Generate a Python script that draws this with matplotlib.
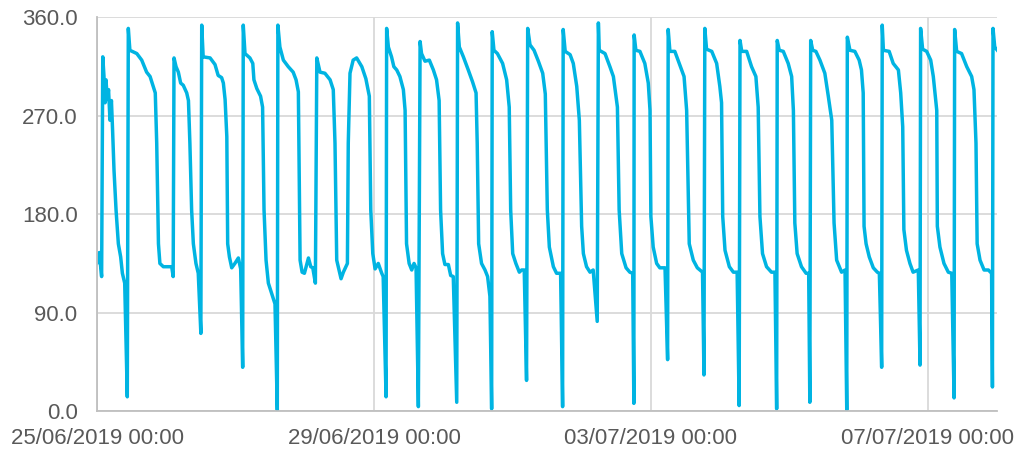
import matplotlib
matplotlib.use('Agg')
import matplotlib.pyplot as plt
import matplotlib.dates as mdates
from matplotlib.ticker import FormatStrFormatter
import pandas as pd

plt.rcParams['font.family'] = ['Liberation Sans', 'DejaVu Sans']

START = pd.Timestamp('2019-06-25 00:00')

# hours since start
hours = [
    0.0, 0.8, 1.6, 2.0, 2.4, 2.8, 3.1, 3.6, 4.0, 4.5, 5.0, 5.4, 5.9, 6.6, 7.4, 8.2, 8.8, 9.6, 10.5,
    10.85, 11.4, 13.8, 15.5, 17.2, 18.4, 19.5, 20.2, 20.7, 21.3, 21.8, 23.0, 25.9, 26.4,
    26.7, 27.4, 28.2, 29.0, 29.9, 31.1, 31.7, 32.2, 32.8, 33.4, 34.3, 35.1, 36.0,
    36.3, 36.8, 39.2, 40.9, 42.0, 43.2, 43.8, 44.4, 45.0, 45.3, 45.9, 46.7, 47.8, 49.0, 49.8, 50.5,
    50.7, 51.3, 53.0, 54.0, 54.4, 55.4, 56.7, 57.4, 57.9, 58.6, 59.4, 60.5, 61.7, 62.5,
    62.7, 63.4, 64.6, 66.3, 68.0, 69.0, 69.8, 70.4, 71.1, 71.9, 73.3, 74.1, 74.8, 75.7,
    76.2, 77.3, 79.0, 80.8, 81.9, 82.5, 83.1, 84.6, 85.4, 86.8,
    87.1, 87.7, 88.8, 90.0, 91.8, 93.2, 94.4, 94.9, 95.6, 96.4, 97.5, 98.7, 99.2, 100.2,
    100.4, 101.0, 102.1, 102.9, 103.9, 105.0, 106.2, 106.8, 107.3, 108.2, 109.1, 109.9, 110.6, 111.4,
    112.0, 112.5, 113.7, 115.2, 116.6, 117.7, 118.6, 119.1, 119.8, 120.6, 121.8, 122.6, 123.5, 124.7,
    125.0, 125.6, 127.0, 128.7, 130.2, 131.4, 131.8, 132.3, 133.3, 134.5, 135.4, 136.2, 136.8,
    137.0, 137.6, 138.8, 140.6, 142.0, 142.9, 143.4, 144.1, 145.2, 146.4, 147.2, 148.1, 148.9,
    149.3, 150.1, 151.5, 153.0, 154.5, 155.4, 156.1, 156.8, 158.2, 159.3, 160.7, 161.4,
    161.6, 162.3, 164.0, 165.1, 166.3, 167.2, 168.0, 168.6, 169.7, 170.9, 172.0, 173.4,
    173.8, 174.1, 176.1, 177.8, 179.0, 180.4, 181.0, 181.9, 183.4, 184.7, 185.7, 186.1,
    186.2, 186.8, 188.2, 189.9, 191.1, 191.7, 192.0, 192.8, 194.0, 195.1, 196.9, 197.8,
    198.0, 198.6, 200.3, 202.1, 203.5, 204.4, 205.3, 206.7, 208.1, 209.9, 210.4,
    210.7, 211.3, 213.1, 214.8, 215.9, 216.5, 216.9, 217.7, 219.2, 220.6, 221.9, 222.6,
    222.9, 223.5, 225.2, 226.9, 228.4, 229.2, 229.8, 230.7, 232.1, 233.8, 235.0, 235.6,
    235.8, 236.5, 237.9, 239.6, 240.8, 241.4, 241.9, 242.7, 244.2, 245.8, 246.7, 247.1,
    247.4, 248.1, 249.2, 250.6, 252.3, 253.5, 254.7, 255.5, 256.4, 258.1, 259.3, 259.9,
    260.1, 261.0, 262.7, 264.2, 265.0, 265.6, 265.9, 266.6, 267.7, 269.1, 270.5, 271.2, 272.0,
    272.2, 272.6, 274.6, 276.0, 277.8, 278.6, 279.3, 279.7, 280.6, 281.8, 282.9, 284.7, 285.3,
    285.5, 286.2, 287.6, 289.0, 289.9, 291.1, 291.3, 292.2, 293.6, 295.1, 296.3, 297.1,
    297.3, 298.0, 299.7, 301.5, 303.2, 304.0, 304.7, 305.1, 306.1, 307.5, 309.0, 310.1, 310.4,
    310.6, 311.2, 312.4,
]
values = [
    135, 145, 123, 324, 307, 282, 303, 285, 294, 266, 284, 257, 220, 184, 153, 141, 126, 117, 13,
    350, 330, 327, 321, 310, 306, 297, 291, 245, 153, 135, 132, 132, 123,
    323, 315, 310, 300, 298, 291, 284, 245, 184, 153, 135, 126, 71,
    353, 324, 323, 317, 307, 305, 300, 285, 251, 153, 141, 131, 135, 140, 130, 40,
    353, 327, 323, 318, 303, 295, 288, 278, 184, 138, 117, 108, 98, 1,
    353, 333, 321, 315, 310, 303, 292, 138, 127, 126, 140, 132, 131, 117,
    323, 310, 309, 303, 294, 245, 138, 121, 127, 135,
    245, 309, 321, 323, 315, 304, 288, 184, 144, 130, 135, 126, 123, 13,
    350, 333, 324, 315, 312, 306, 294, 275, 153, 135, 129, 135, 131, 4,
    338, 327, 320, 321, 312, 303, 284, 184, 144, 134, 134, 124, 123, 8,
    355, 333, 324, 312, 301, 291, 245, 153, 135, 129, 123, 105, 2,
    347, 330, 327, 318, 303, 278, 184, 144, 135, 127, 129, 129, 28,
    350, 335, 330, 320, 309, 290, 184, 150, 132, 126, 126, 4,
    349, 329, 326, 318, 297, 266, 169, 144, 132, 127, 129, 82,
    355, 330, 327, 315, 306, 278, 184, 144, 131, 127, 126, 7,
    344, 330, 329, 318, 300, 275, 178, 150, 135, 131, 131, 47,
    349, 329, 329, 316, 306, 275, 153, 138, 131, 127, 33,
    350, 331, 329, 318, 297, 282, 178, 147, 132, 127, 127, 5,
    339, 329, 329, 315, 306, 278, 178, 144, 132, 127, 127, 2,
    339, 330, 329, 318, 306, 275, 172, 144, 132, 126, 126, 8,
    339, 330, 329, 321, 309, 288, 266, 172, 138, 127, 129, 1,
    342, 330, 329, 321, 312, 291, 169, 153, 141, 131, 127, 126, 40,
    353, 330, 329, 318, 312, 291, 260, 166, 147, 135, 127, 129, 42,
    350, 331, 329, 321, 306, 275, 169, 150, 135, 127, 126, 12,
    349, 329, 327, 315, 306, 294, 245, 153, 138, 129, 129, 126, 22,
    350, 333, 329,
]

y_ticks = [0, 90, 180, 270, 360]
x_ticks = ['2019-06-25', '2019-06-29', '2019-07-03', '2019-07-07']

times = START + pd.to_timedelta(hours, unit='h')

fig = plt.figure(figsize=(10.2, 4.53), dpi=100)
ax = fig.add_axes([0.0951, 0.0927, 0.8824, 0.8687])
ax.plot(times, values, color='#00B4E2', lw=2.5,
        solid_joinstyle='round', solid_capstyle='round')

ax.set_xlim(START, START + pd.Timedelta(days=13))
ax.set_ylim(0, 360)
ax.set_yticks(y_ticks)
ax.yaxis.set_major_formatter(FormatStrFormatter('%.1f'))
ax.set_xticks(pd.to_datetime(x_ticks))
ax.xaxis.set_major_formatter(mdates.DateFormatter('%d/%m/%Y %H:%M'))

ax.grid(color='#D9D9D9', lw=1.3)
ax.set_axisbelow(True)
for s in ['top', 'right']:
    ax.spines[s].set_visible(False)
for s in ['left', 'bottom']:
    ax.spines[s].set_color('#BFBFBF')
    ax.spines[s].set_linewidth(1.3)

ax.tick_params(length=0, labelsize=16, colors='#595959')
ax.tick_params(axis='x', pad=12)
ax.tick_params(axis='y', pad=14)

fig.savefig('out.png', dpi=100)
